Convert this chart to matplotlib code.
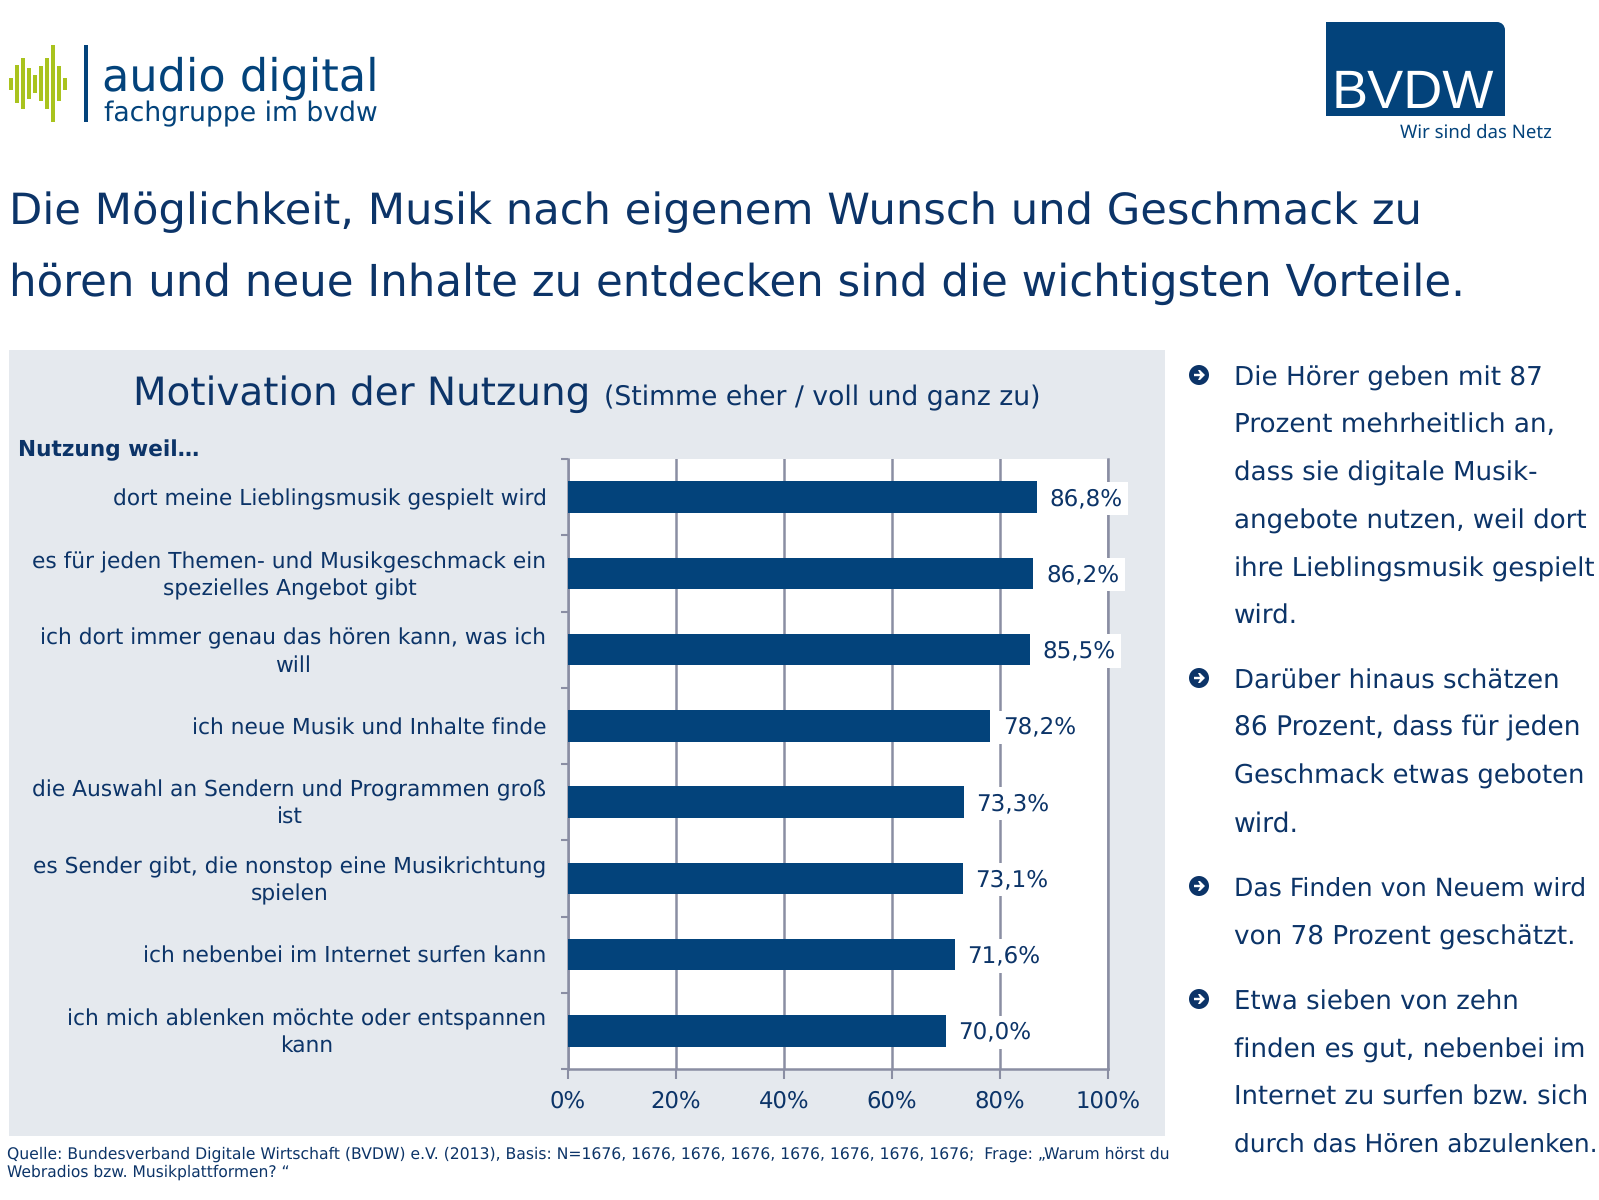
import matplotlib
matplotlib.use("Agg")
import matplotlib.pyplot as plt
from matplotlib.patches import Rectangle, Circle, Polygon
from matplotlib.transforms import ScaledTranslation

categories = [
    "dort meine Lieblingsmusik gespielt wird",
    "es für jeden Themen- und Musikgeschmack ein\nspezielles Angebot gibt",
    "ich dort immer genau das hören kann, was ich\nwill",
    "ich neue Musik und Inhalte finde",
    "die Auswahl an Sendern und Programmen groß\nist",
    "es Sender gibt, die nonstop eine Musikrichtung\nspielen",
    "ich nebenbei im Internet surfen kann",
    "ich mich ablenken möchte oder entspannen\nkann",
]
values = [86.8, 86.2, 85.5, 78.2, 73.3, 73.1, 71.6, 70.0]
value_labels = ["86,8%", "86,2%", "85,5%", "78,2%", "73,3%", "73,1%", "71,6%", "70,0%"]
x_ticks = [0, 20, 40, 60, 80, 100]
x_tick_labels = ["0%", "20%", "40%", "60%", "80%", "100%"]

title_lines = [
    "Die Möglichkeit, Musik nach eigenem Wunsch und Geschmack zu",
    "hören und neue Inhalte zu entdecken sind die wichtigsten Vorteile.",
]
bullet_blocks = [
    ["Die Hörer geben mit 87", "Prozent mehrheitlich an,", "dass sie digitale Musik-",
     "angebote nutzen, weil dort", "ihre Lieblingsmusik gespielt", "wird."],
    ["Darüber hinaus schätzen", "86 Prozent, dass für jeden", "Geschmack etwas geboten", "wird."],
    ["Das Finden von Neuem wird", "von 78 Prozent geschätzt."],
    ["Etwa sieben von zehn", "finden es gut, nebenbei im", "Internet zu surfen bzw. sich",
     "durch das Hören abzulenken."],
]
bullet_line_y = [
    [378, 425, 473, 521, 569, 616],
    [681, 728, 776, 824],
    [889, 937],
    [1002, 1050, 1097, 1145],
]
bullet_line_w = [
    [309, 321, 304, 353, 361, 64],
    [326, 347, 350, 65],
    [352, 342],
    [285, 351, 355, 363],
]
source_lines = [
    "Quelle: Bundesverband Digitale Wirtschaft (BVDW) e.V. (2013), Basis: N=1676, 1676, 1676, 1676, 1676, 1676, 1676, 1676;  Frage: „Warum hörst du",
    "Webradios bzw. Musikplattformen? “",
]
wave_heights = [36, 114, 153, 93, 54, 105, 153, 231, 105, 36]

W, H = 1599, 1200
NAVY = "#0c3468"
BAR = "#03437b"
PANEL = "#e5e9ee"
GRID = "#8a8ea3"
GREEN = "#a9c31e"

plt.rcParams["font.family"] = ["DejaVu Sans"]
plt.rcParams["text.hinting"] = "no_hinting"
fig = plt.figure(figsize=(W / 100, H / 100), dpi=100, facecolor="white")
renderer = fig.canvas.get_renderer()
bg = fig.add_axes([0, 0, 1, 1])
bg.set_xlim(0, W)
bg.set_ylim(H, 0)
bg.axis("off")


def fit_text(x, y, s, width, size, **kw):
    """Text whose font size is scaled so that it spans the given pixel width."""
    t = bg.text(x, y, s, fontsize=size, **kw)
    for _ in range(2):
        w = t.get_window_extent(renderer).width
        t.set_fontsize(t.get_fontsize() * width / w)
    return t


# logo left
for i, h in enumerate(wave_heights):
    xc = 11 + i * 6.03
    bg.add_patch(Rectangle((xc - 2.2, 83.7 - h / 6), 4.4, h / 3, color=GREEN, lw=0))
bg.add_patch(Rectangle((83.5, 45), 4, 77, color=BAR, lw=0))
fit_text(102, 91, "audio digital", 277, 31, color=BAR, va="baseline")
fit_text(104, 121, "fachgruppe im bvdw", 273, 18, color=BAR, va="baseline")

# logo right
bg.add_patch(Rectangle((1326, 22), 179, 94, color=BAR, lw=0))
bg.add_patch(Rectangle((1497, 22), 8, 8, color="white", lw=0))
bg.add_patch(Circle((1497, 30), 8, color=BAR, lw=0))
bg.text(1332, 108, "BVDW", fontsize=39, family="Liberation Sans", color="white", va="baseline")
bg.text(1400, 138, "Wir sind das Netz", fontsize=13.4, family="Noto Sans", color=BAR, va="baseline")

# title
fit_text(9, 224.5, title_lines[0], 1413, 31, color=NAVY, va="baseline")
fit_text(9, 295.5, title_lines[1], 1456, 31, color=NAVY, va="baseline")

# panel
bg.add_patch(Rectangle((9, 350), 1156, 786, color=PANEL, lw=0))
bg.text(133, 405, "Motivation der Nutzung", fontsize=28, color=NAVY, va="baseline")
bg.text(604, 405, "(Stimme eher / voll und ganz zu)", fontsize=19.2, color=NAVY, va="baseline")
bg.text(18, 456, "Nutzung weil…", fontsize=15.6, weight="bold", color=NAVY, va="baseline")

# source
fit_text(7, 1159, source_lines[0], 1163, 11, color=NAVY, va="baseline")
bg.text(7, 1177, source_lines[1], fontsize=11.2, color=NAVY, va="baseline")

# bullets
for lines, ys, ws in zip(bullet_blocks, bullet_line_y, bullet_line_w):
    for t, y, lw_px in zip(lines, ys, ws):
        fit_text(1234, y, t, lw_px, 18.5, color=NAVY, va="center")
    cx, cy = 1199, ys[0] - 3
    bg.add_patch(Circle((cx, cy), 10, color=NAVY, lw=0))
    bg.add_patch(Polygon([[cx - 5, cy - 1.2], [cx + 1, cy - 1.2], [cx - 1, cy - 5], [cx + 1, cy - 5],
                          [cx + 6, cy], [cx + 1, cy + 5], [cx - 1, cy + 5], [cx + 1, cy + 1.2],
                          [cx - 5, cy + 1.2]], color="white", lw=0))

# chart
L, R, T, B = 568, 1108, 459, 1069
ax = fig.add_axes([L / W, 1 - B / H, (R - L) / W, (B - T) / H], facecolor="white")
y = list(range(len(values)))
ax.barh(y, values, height=0.41, color=BAR, zorder=3)
ax.set_xlim(0, 100)
ax.set_ylim(len(values) - 0.5, -0.5)
ax.set_xticks(x_ticks)
ax.set_xticklabels(x_tick_labels, fontsize=16.4, color=NAVY)
ax.set_yticks([i - 0.5 for i in range(len(values) + 1)])
ax.set_yticklabels([])
ax.set_yticks(y, minor=True)
ax.set_yticklabels(categories, minor=True, fontsize=15.65, color=NAVY, ma="center", linespacing=1.36)
ax.tick_params(axis="y", which="minor", length=0, pad=15.5)
ax.tick_params(axis="y", which="major", length=5, width=1.5, color=GRID)
ax.tick_params(axis="x", length=7, width=1.5, color=GRID, pad=8)
for lab in ax.get_yticklabels(minor=True):
    if "\n" in lab.get_text():
        lab.set_transform(lab.get_transform() + ScaledTranslation(0, 2.2 / 72, fig.dpi_scale_trans))
ax.xaxis.grid(True, color=GRID, lw=1.8, zorder=1)
ax.set_axisbelow(True)
ax.spines["top"].set_visible(False)
for s in ["left", "bottom", "right"]:
    ax.spines[s].set_color(GRID)
    ax.spines[s].set_linewidth(1.8)
for yi, v, lab in zip(y, values, value_labels):
    ax.annotate(lab, (v, yi), xytext=(9, -1), textcoords="offset points", va="center", ha="left",
                fontsize=16.6, color=NAVY, zorder=5,
                bbox=dict(facecolor="white", edgecolor="none", pad=4))

fig.savefig("out.png", dpi=100)
